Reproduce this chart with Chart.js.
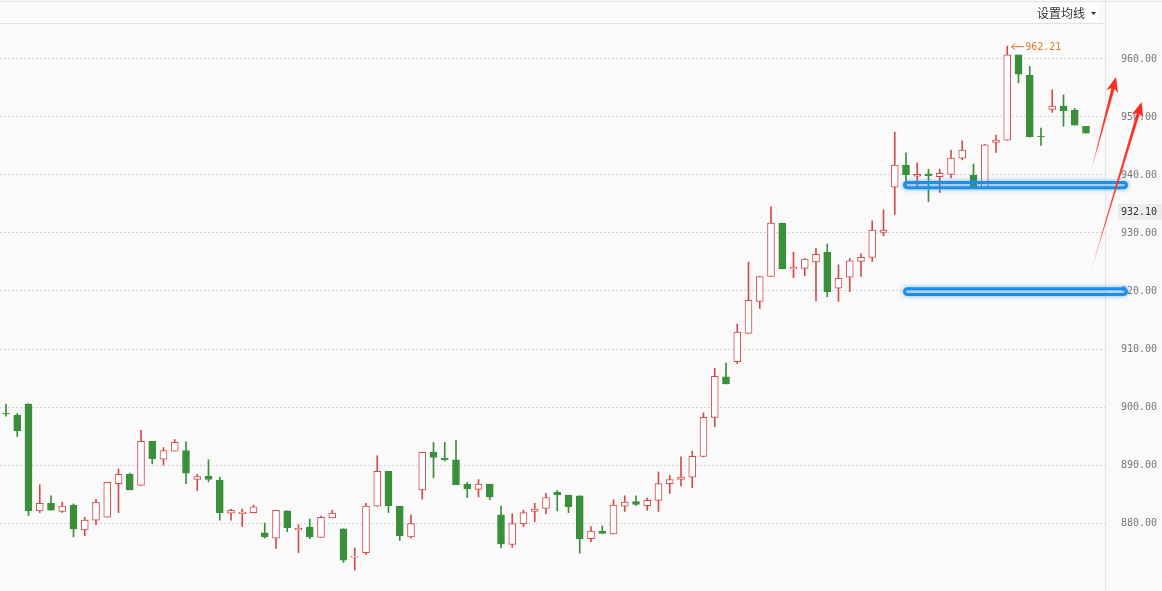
<!DOCTYPE html>
<html>
<head>
<meta charset="utf-8">
<script src="https://cdn.jsdelivr.net/npm/chart.js@4.4.0/dist/chart.umd.min.js"></script>
<style>
  html, body { margin: 0; padding: 0; background: #fafafa; }
  canvas { display: block; }
</style>
</head>
<body>
<canvas id="kline" width="1162" height="591"></canvas>
<script>
// daily candles (index 0 = oldest)
const opens = [
  898.9, 898.6, 900.5, 882.1, 883.4, 882.0, 883.1, 878.8, 880.5, 881.0,
  886.8, 888.4, 886.5, 894.1, 891.0, 892.4, 892.5, 887.5, 888.1, 887.4,
  881.7, 881.6, 881.8, 878.3, 877.4, 882.1, 878.8, 879.3, 877.5, 880.9,
  879.0, 874.1, 874.9, 882.9, 888.9, 882.9, 877.6, 885.7, 892.2, 891.2,
  890.9, 886.7, 885.8, 886.7, 881.4, 876.3, 879.9, 882.0, 882.5, 885.3,
  884.8, 884.7, 877.3, 878.6, 878.1, 882.9, 883.7, 883.0, 883.9, 886.8,
  887.5, 887.9, 891.5, 898.2, 905.2, 907.8, 912.7, 918.2, 922.5, 931.7,
  923.8, 923.9, 925.0, 926.7, 920.5, 922.4, 925.1, 925.8, 930.1, 937.9,
  941.7, 939.8, 940.2, 939.7, 940.1, 942.9, 940.0, 937.8, 945.6, 946.0,
  960.7, 957.2, 946.7, 951.3, 951.9, 951.2, 948.4
];
const closes = [
  898.8, 895.9, 882.1, 883.4, 882.2, 882.9, 879.0, 880.5, 883.6, 887.0,
  888.4, 885.7, 894.1, 891.1, 892.5, 893.9, 888.6, 888.0, 887.5, 881.8,
  882.2, 881.9, 882.8, 877.6, 882.2, 879.2, 879.1, 877.6, 881.0, 881.7,
  873.6, 874.3, 882.9, 888.9, 883.0, 877.8, 879.9, 892.2, 891.3, 890.9,
  886.6, 885.9, 886.7, 884.5, 876.4, 879.9, 881.8, 882.4, 884.4, 884.9,
  882.8, 877.3, 878.6, 878.2, 883.1, 883.6, 883.2, 883.9, 886.8, 887.5,
  887.9, 891.5, 898.2, 905.3, 904.0, 912.9, 918.4, 922.5, 931.7, 923.8,
  924.1, 925.5, 926.3, 919.9, 922.2, 925.2, 925.8, 930.5, 930.5, 941.7,
  940.0, 940.1, 939.9, 940.3, 942.9, 944.3, 937.8, 945.2, 946.0, 960.7,
  957.4, 946.6, 946.6, 951.9, 951.1, 948.6, 947.2
];
const highs = [
  900.5, 898.9, 900.6, 886.6, 884.7, 883.6, 883.3, 881.0, 884.1, 887.0,
  889.3, 888.6, 896.0, 894.1, 893.0, 894.4, 894.0, 888.4, 890.9, 887.9,
  882.4, 882.4, 883.1, 880.0, 882.2, 882.1, 879.7, 880.7, 881.2, 882.2,
  879.0, 875.7, 883.4, 891.6, 888.9, 882.9, 881.4, 892.2, 893.9, 893.9,
  894.3, 887.0, 887.5, 886.7, 882.9, 881.6, 882.2, 883.4, 885.1, 885.6,
  884.8, 884.7, 879.4, 879.5, 884.0, 884.7, 884.7, 884.3, 888.8, 888.2,
  891.4, 892.4, 899.0, 906.7, 907.6, 914.3, 925.0, 922.5, 934.5, 931.7,
  926.7, 925.6, 927.4, 928.1, 924.5, 925.6, 926.4, 932.1, 934.0, 947.4,
  943.8, 942.1, 941.0, 941.0, 944.3, 945.9, 941.9, 945.3, 946.9, 962.21,
  960.7, 958.7, 948.1, 954.7, 953.8, 951.5, 948.4
];
const lows = [
  898.4, 894.9, 881.3, 881.8, 882.2, 881.8, 877.6, 877.8, 879.7, 881.0,
  881.8, 885.7, 886.5, 890.2, 890.0, 892.4, 886.8, 885.6, 887.1, 880.5,
  880.5, 879.4, 881.8, 877.4, 875.6, 878.5, 874.9, 877.3, 877.5, 880.9,
  873.2, 871.9, 874.6, 882.9, 881.8, 877.0, 877.4, 884.1, 887.8, 890.7,
  886.6, 884.4, 884.5, 884.0, 875.7, 875.8, 879.4, 880.2, 881.6, 882.1,
  881.8, 874.8, 876.8, 878.2, 878.1, 882.0, 883.0, 882.2, 882.0, 885.1,
  886.4, 886.1, 891.4, 896.6, 904.0, 907.5, 912.7, 917.0, 922.5, 923.8,
  922.3, 922.6, 918.3, 919.0, 918.2, 919.9, 922.5, 925.1, 929.5, 933.2,
  938.2, 937.8, 935.4, 937.0, 939.5, 942.6, 937.8, 937.8, 943.9, 946.0,
  955.9, 946.5, 945.1, 950.8, 948.4, 948.6, 947.2
];
const yTicks = [880, 890, 900, 910, 920, 930, 940, 950, 960];
const yMin = 868.28, yMax = 966.03;
const xMin = -0.533, xMax = 97.69;

// annotations in data units (candle index, price)
const peakIndex = 89;
const lastPrice = 932.10;
const zones = [[938.71, 937.81], [920.38, 919.40]];
const zoneFrom = 79.87, zoneTo = 99.6;
const arrows = [
  { from: [96.36, 940.0], to: [98.67, 956.9] },
  { from: [96.2, 921.9], to: [100.95, 952.6] }
];

const UP = '#d24b4b', DOWN = '#3a8f3a';
const isUp = i => closes[i] >= opens[i];

function drawArrow(ctx, x0, y0, x1, y1) {
  const ang = Math.atan2(y1 - y0, x1 - x0);
  const len = Math.hypot(x1 - x0, y1 - y0);
  const head = 15, half = 6, shaft = 1.6;
  ctx.save();
  ctx.translate(x0, y0);
  ctx.rotate(ang);
  const g = ctx.createLinearGradient(0, 0, len, 0);
  g.addColorStop(0, 'rgba(255,60,40,0)');
  g.addColorStop(0.3, 'rgba(255,45,25,0.85)');
  g.addColorStop(1, '#ff2a1a');
  ctx.fillStyle = g;
  ctx.beginPath();
  ctx.moveTo(0, 0);
  ctx.lineTo(len - head * 0.8, -shaft);
  ctx.lineTo(len - head, -half);
  ctx.lineTo(len, 0);
  ctx.lineTo(len - head, half);
  ctx.lineTo(len - head * 0.8, shaft);
  ctx.closePath();
  ctx.fill();
  ctx.restore();
}

const overlay = {
  id: 'overlay',
  beforeDraw(chart) {
    const { ctx, width, height } = chart;
    ctx.save();
    ctx.fillStyle = '#fafafa';
    ctx.fillRect(0, 0, width, height);
    ctx.restore();
  },
  afterDraw(chart) {
    const { ctx, width, height, chartArea: a, scales: { x, y } } = chart;
    ctx.save();

    // frame
    ctx.strokeStyle = '#e4e4e4';
    ctx.lineWidth = 1;
    ctx.beginPath();
    ctx.moveTo(0, 1.5); ctx.lineTo(width, 1.5);
    ctx.moveTo(0, a.top - 0.5); ctx.lineTo(a.right, a.top - 0.5);
    ctx.moveTo(a.right + 0.5, 0); ctx.lineTo(a.right + 0.5, height);
    ctx.stroke();

    // header button
    ctx.fillStyle = '#ffffff';
    ctx.fillRect(a.right - 71, 3, 64, 19);
    ctx.fillStyle = '#333';
    ctx.font = '12px "Noto Sans CJK SC"';
    ctx.textBaseline = 'middle';
    ctx.textAlign = 'left';
    ctx.fillText('设置均线', a.right - 68, 13);
    ctx.beginPath();
    ctx.moveTo(a.right - 14, 12); ctx.lineTo(a.right - 9, 12); ctx.lineTo(a.right - 11.5, 15);
    ctx.closePath(); ctx.fill();

    // support zones
    ctx.save();
    ctx.strokeStyle = '#1e8fe8';
    ctx.lineWidth = 3;
    ctx.shadowColor = 'rgba(30,143,232,0.7)';
    ctx.shadowBlur = 4;
    zones.forEach(([top, bot]) => {
      const x0 = x.getPixelForValue(zoneFrom), x1 = x.getPixelForValue(zoneTo);
      const y0 = y.getPixelForValue(top), y1 = y.getPixelForValue(bot);
      ctx.beginPath();
      ctx.roundRect(x0, y0, x1 - x0, y1 - y0, 4);
      ctx.stroke();
    });
    ctx.restore();

    // peak label
    const px = x.getPixelForValue(peakIndex), py = y.getPixelForValue(highs[peakIndex]);
    ctx.strokeStyle = '#e07b26';
    ctx.fillStyle = '#e07b26';
    ctx.lineWidth = 1;
    ctx.beginPath();
    ctx.moveTo(px + 4, py + 0.5); ctx.lineTo(px + 17, py + 0.5);
    ctx.moveTo(px + 8, py - 2.5); ctx.lineTo(px + 4, py + 0.5); ctx.lineTo(px + 8, py + 3.5);
    ctx.stroke();
    ctx.font = '10px "DejaVu Sans Mono"';
    ctx.fillText(highs[peakIndex].toFixed(2), px + 18, py + 1);

    // last price tag
    const ly = y.getPixelForValue(lastPrice);
    ctx.fillStyle = '#ececec';
    ctx.fillRect(a.right + 13, ly - 17, width - a.right - 13, 16);
    ctx.fillStyle = '#333';
    ctx.fillText(lastPrice.toFixed(2), a.right + 16, ly - 8);

    // trend arrows
    arrows.forEach(ar => {
      drawArrow(ctx,
        x.getPixelForValue(ar.from[0]), y.getPixelForValue(ar.from[1]),
        x.getPixelForValue(ar.to[0]), y.getPixelForValue(ar.to[1]));
    });

    ctx.restore();
  }
};

new Chart(document.getElementById('kline'), {
  type: 'bar',
  data: {
    datasets: [
      {
        label: 'body',
        data: opens.map((o, i) => ({ x: i, y: [o, closes[i]] })),
        grouped: false,
        barThickness: 7,
        borderWidth: 1,
        borderSkipped: false,
        backgroundColor: c => isUp(c.dataIndex) ? '#ffffff' : DOWN,
        borderColor: c => isUp(c.dataIndex) ? UP : DOWN,
        order: 1
      },
      {
        label: 'wick',
        data: lows.map((l, i) => ({ x: i, y: [l, highs[i]] })),
        grouped: false,
        barThickness: 1,
        borderWidth: 0,
        backgroundColor: c => isUp(c.dataIndex) ? UP : DOWN,
        order: 2
      }
    ]
  },
  options: {
    responsive: false,
    animation: false,
    layout: { padding: { top: 24, left: 0, right: 0, bottom: 0 } },
    plugins: { legend: { display: false }, tooltip: { enabled: false } },
    scales: {
      x: {
        type: 'linear', min: xMin, max: xMax, offset: false, display: false,
        ticks: { display: false }, grid: { display: false }
      },
      y: {
        type: 'linear',
        position: 'right',
        min: yMin,
        max: yMax,
        afterFit: s => { s.width = 57; s.paddingTop = 0; s.paddingBottom = 0; },
        afterBuildTicks: s => { s.ticks = yTicks.map(v => ({ value: v })); },
        grid: { color: '#d2d2d2', drawTicks: false, lineWidth: 1 },
        border: { display: false, dash: [2, 2] },
        ticks: {
          padding: 16,
          color: '#777',
          font: { family: 'DejaVu Sans Mono', size: 10 },
          callback: v => Number(v).toFixed(2)
        }
      }
    }
  },
  plugins: [overlay]
});
</script>
</body>
</html>
